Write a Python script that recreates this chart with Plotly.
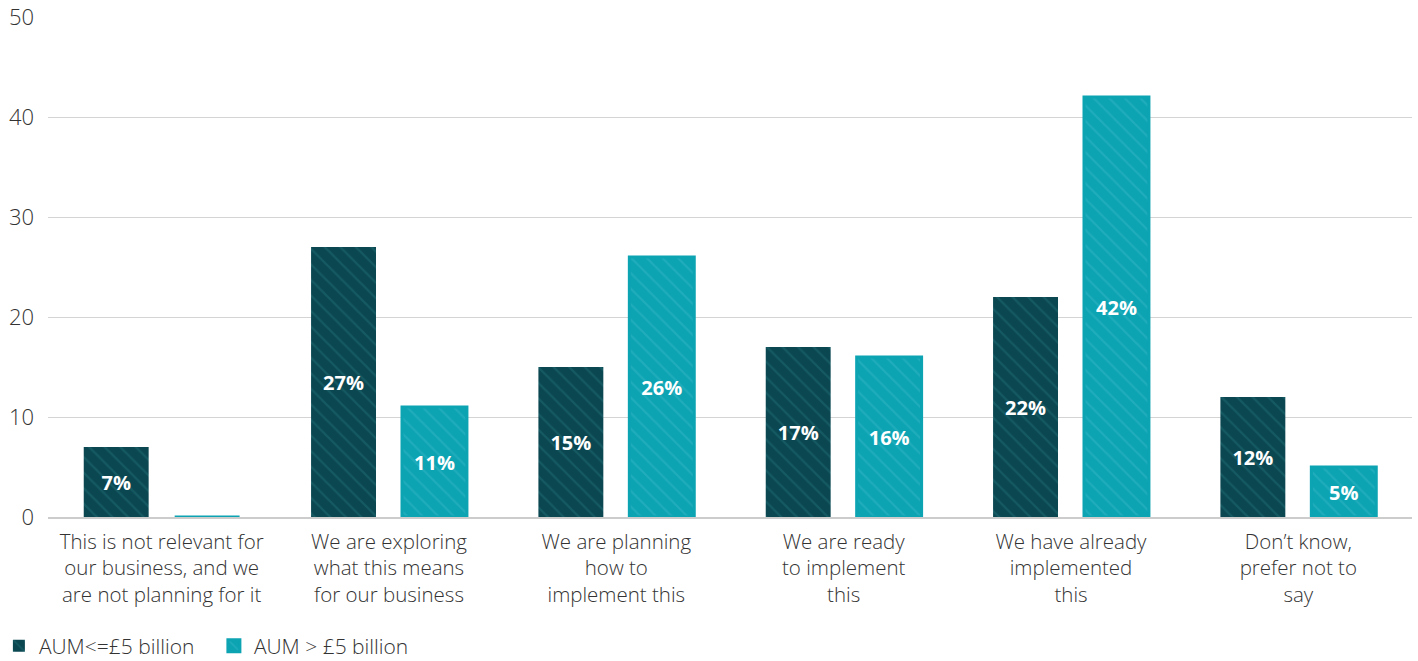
import plotly.graph_objects as go

categories = [
    "This is not relevant for<br>our business, and we<br>are not planning for it",
    "We are exploring<br>what this means<br>for our business",
    "We are planning<br>how to<br>implement this",
    "We are ready<br>to implement<br>this",
    "We have already<br>implemented<br>this",
    "Don’t know,<br>prefer not to<br>say",
]
small_aum = [7, 27, 15, 17, 22, 12]
large_aum = [0, 11, 26, 16, 42, 5]

DARK = "#0b4751"
DARK_LINE = "#1f6d74"
CYAN = "#0ca3b3"
CYAN_LINE = "#33b6c3"
FONT = "Open Sans"


def labels(vals):
    return [f"<b>{v}%</b>" if v > 0 else "" for v in vals]


fig = go.Figure()
fig.add_trace(go.Bar(
    x=categories, y=small_aum, name="AUM<=£5 billion",
    marker=dict(color=DARK, line=dict(color=DARK, width=0),
                pattern=dict(shape="\\", fgcolor=DARK_LINE, size=11, solidity=0.2)),
    text=labels(small_aum), textposition="inside", insidetextanchor="middle",
    textfont=dict(color="white", size=20, family=FONT),
))
fig.add_trace(go.Bar(
    x=categories, y=large_aum, name="AUM > £5 billion",
    marker=dict(color=CYAN, line=dict(color=CYAN, width=3),
                pattern=dict(shape="\\", fgcolor=CYAN_LINE, size=11, solidity=0.2)),
    text=labels(large_aum), textposition="inside", insidetextanchor="middle",
    textfont=dict(color="white", size=20, family=FONT),
))

fig.update_layout(
    width=1418, height=661,
    barmode="group", bargap=0.2, bargroupgap=0.286,
    plot_bgcolor="white", paper_bgcolor="white",
    font=dict(family=FONT, color="#333333", size=20),
    margin=dict(l=48, r=6, t=17, b=144, autoexpand=False),
    uniformtext=dict(minsize=10, mode="show"),
    legend=dict(orientation="h", x=-0.036, y=-0.217, xanchor="left", yanchor="top",
                font=dict(size=21, color="#333333", weight=300), itemwidth=30,
                entrywidth=170, entrywidthmode="pixels",
                traceorder="normal"),
    xaxis=dict(showgrid=False, showline=True, linecolor="#cccccc", linewidth=2,
               layer="below traces", automargin=False, ticklabelstandoff=5,
               tickfont=dict(size=20.5, color="#333333", weight=300), ticks=""),
    yaxis=dict(range=[0, 50], dtick=10, showgrid=True, gridcolor="#d4d4d4", gridwidth=1,
               zeroline=False, showline=False, ticks="", ticklabelstandoff=13,
               layer="below traces", automargin=False,
               tickfont=dict(size=22, color="#333333", weight=300)),
)

fig.write_html("out.html", config={"displayModeBar": False},
               post_script="document.body.style.margin='0';")
